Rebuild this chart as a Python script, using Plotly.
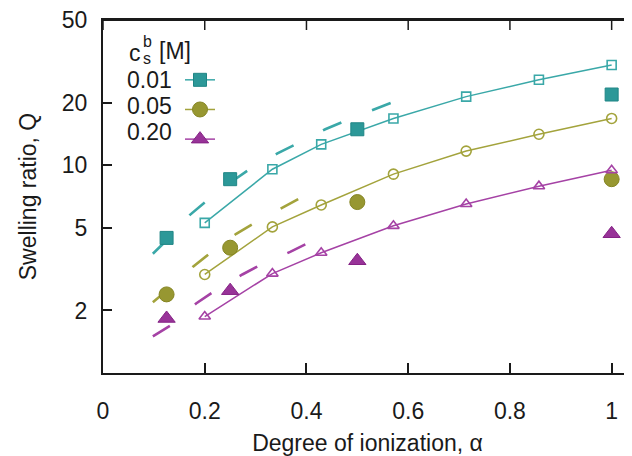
import math
import plotly.graph_objects as go

# ---- data ----
alpha_sim = [0.2, 0.333, 0.429, 0.571, 0.714, 0.857, 1.0]
q_sim_001 = [5.28, 9.57, 12.6, 16.8, 21.4, 25.8, 30.4]
q_sim_005 = [2.98, 5.05, 6.44, 9.06, 11.7, 14.1, 16.8]
q_sim_020 = [1.87, 3.01, 3.79, 5.11, 6.51, 7.93, 9.46]

alpha_exp = [0.125, 0.25, 0.5, 1.0]
q_exp_001 = [4.47, 8.57, 14.9, 21.9]
q_exp_005 = [2.39, 4.01, 6.65, 8.57]
q_exp_020 = [1.83, 2.49, 3.47, 4.68]

alpha_th_001 = [0.098, 0.134, 0.171, 0.201, 0.254, 0.285, 0.343, 0.378, 0.437, 0.472, 0.534, 0.571]
q_th_001 = [3.75, 4.57, 5.77, 6.65, 8.38, 9.46, 11.4, 12.6, 14.9, 16.2, 18.7, 20.2]
alpha_th_005 = [0.098, 0.128, 0.177, 0.209, 0.262, 0.295, 0.352, 0.39]
q_th_005 = [2.19, 2.52, 3.25, 3.75, 4.68, 5.22, 6.23, 7.0]
alpha_th_020 = [0.098, 0.134, 0.183, 0.215, 0.274, 0.307, 0.368, 0.40]
q_th_020 = [1.50, 1.70, 2.16, 2.44, 2.98, 3.29, 3.83, 4.19]

legend_labels = ["0.01", "0.05", "0.20"]
x_ticks = [0, 0.2, 0.4, 0.6, 0.8, 1.0]
x_ticktext = ["0", "0.2", "0.4", "0.6", "0.8", "1"]
y_ticks = [2, 5, 10, 20, 50]

# ---- styles ----
line_cols = ["#3aa8a8", "#a3a33c", "#a542a5"]
fill_cols = ["#2c9898", "#979731", "#983398"]
edge_cols = ["#1f8585", "#858522", "#852285"]
open_sym = ["square-open", "circle-open", "triangle-up-open"]
fill_sym = ["square", "circle", "triangle-up"]
fill_size = [13, 15, 15]
open_size = [9, 10, 10]

OFF = 8  # page body margin in the browser
W, H = 632 - OFF, 456 - OFF
L, R, T = 103 - OFF, 0, 20 - OFF
ph = 353
B = H - T - ph
pw = W - L - R

y_range = [0, 1.6992]
x_range = [0, 1.04]

def px(x):  # window pixel -> paper x
    return (x - OFF - L) / pw

def py(y):  # window pixel -> paper y
    return (T + ph - (y - OFF)) / ph

fig = go.Figure()

sims = [q_sim_001, q_sim_005, q_sim_020]
exps = [q_exp_001, q_exp_005, q_exp_020]
ths = [(alpha_th_001, q_th_001), (alpha_th_005, q_th_005), (alpha_th_020, q_th_020)]

for i in range(3):
    ax, ay = ths[i]
    fig.add_trace(go.Scatter(x=ax, y=ay, mode="lines", showlegend=False,
                             line=dict(color=line_cols[i], width=2.6, dash="20px,33px")))
    fig.add_trace(go.Scatter(x=alpha_sim, y=sims[i], mode="lines+markers", showlegend=False,
                             line=dict(color=line_cols[i], width=1.5),
                             marker=dict(symbol=open_sym[i], size=open_size[i], color=line_cols[i],
                                         line=dict(width=1.6, color=line_cols[i]))))
    fig.add_trace(go.Scatter(x=alpha_exp, y=exps[i], mode="markers", showlegend=False,
                             marker=dict(symbol=fill_sym[i], size=fill_size[i], color=fill_cols[i],
                                         line=dict(width=1, color=edge_cols[i]))))

# legend entries (symbol on the right of the labels)
for i in range(3):
    fig.add_trace(go.Scatter(x=[None], y=[None], mode="lines+markers", name=" ",
                             line=dict(color=line_cols[i], width=1.5),
                             marker=dict(symbol=fill_sym[i], size=fill_size[i], color=fill_cols[i],
                                         line=dict(width=1, color=edge_cols[i]))))

font_main = "Liberation Sans, Arial, sans-serif"
txt = "#1a1a1a"
FS = 23
axc = "#1a1a1a"
AXW = 2

ann = []
for lab, yy in zip(legend_labels, [80, 106, 132]):
    ann.append(dict(text=lab, x=px(125), y=py(yy), xref="paper", yref="paper",
                    xanchor="left", yanchor="middle", showarrow=False,
                    font=dict(size=FS, color=txt, family=font_main)))
ann.append(dict(text="c", x=px(127), y=py(53), xref="paper", yref="paper", xanchor="left",
                yanchor="middle", showarrow=False, font=dict(size=FS, color=txt, family=font_main)))
ann.append(dict(text="b", x=px(141), y=py(41), xref="paper", yref="paper", xanchor="left",
                yanchor="middle", showarrow=False, font=dict(size=16, color=txt, family=font_main)))
ann.append(dict(text="s", x=px(141), y=py(58), xref="paper", yref="paper", xanchor="left",
                yanchor="middle", showarrow=False, font=dict(size=16, color=txt, family=font_main)))
ann.append(dict(text="[M]", x=px(157), y=py(51), xref="paper", yref="paper", xanchor="left",
                yanchor="middle", showarrow=False, font=dict(size=FS, color=txt, family=font_main)))

# frame decorations: top border with ticks, ticks on the right edge
shapes = [dict(type="line", xref="paper", yref="paper", x0=0, x1=1, y0=1, y1=1,
               layer="above", line=dict(color=axc, width=AXW))]
for xv in x_ticks:
    shapes.append(dict(type="line", xref="x", yref="paper", x0=xv, x1=xv, y0=1, y1=1 - 10 / ph,
                       layer="above", line=dict(color=axc, width=1.5)))
for yv in y_ticks[:-1]:
    f = (math.log10(yv) - y_range[0]) / (y_range[1] - y_range[0])
    shapes.append(dict(type="line", xref="paper", yref="paper", x0=1 - 5 / pw, x1=1, y0=f, y1=f,
                       layer="above", line=dict(color=axc, width=1.5)))

fig.update_layout(
    width=W, height=H,
    margin=dict(l=L, r=R, t=T, b=B, pad=0),
    paper_bgcolor="white", plot_bgcolor="white",
    font=dict(family=font_main, size=FS, color=txt),
    showlegend=True,
    legend=dict(x=px(180), y=py(60), xanchor="left", yanchor="top",
                bgcolor="rgba(0,0,0,0)", font=dict(size=20.5), tracegroupgap=0,
                itemsizing="trace"),
    annotations=ann,
    shapes=shapes,
    xaxis=dict(range=x_range, tickvals=x_ticks, ticktext=x_ticktext,
               ticks="inside", ticklen=10, tickwidth=1.5, tickcolor=axc,
               showline=True, linecolor=axc, linewidth=AXW, mirror=True,
               showgrid=False, zeroline=False, ticklabelstandoff=16,
               tickfont=dict(size=FS),
               title=dict(text="Degree of ionization, α", standoff=15, font=dict(size=FS))),
    yaxis=dict(type="log", range=y_range, tickvals=y_ticks, ticktext=[str(v) for v in y_ticks],
               ticks="inside", ticklen=9, tickwidth=1.5, tickcolor=axc,
               showline=True, linecolor=axc, linewidth=AXW,
               showgrid=False, zeroline=False, ticklabelstandoff=9,
               ticklabeloverflow="allow",
               tickfont=dict(size=FS),
               title=dict(text="Swelling ratio, Q", standoff=19, font=dict(size=FS))),
)

fig.write_html("out.html", config={"displayModeBar": False})
